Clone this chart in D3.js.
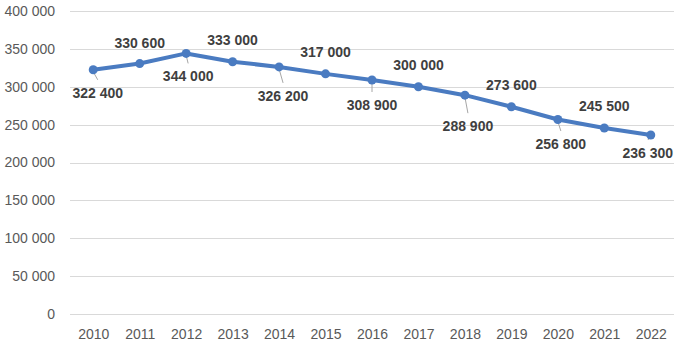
<!DOCTYPE html>
<html><head><meta charset="utf-8">
<script src="https://cdn.jsdelivr.net/npm/d3@7"></script>
<style>html,body{margin:0;padding:0;background:#fff;}</style>
</head><body>
<svg id="chart" width="678" height="351"></svg>
<script>
const years = ["2010","2011","2012","2013","2014","2015","2016","2017","2018","2019","2020","2021","2022"];
const values = [322400,330600,344000,333000,326200,317000,308900,300000,288900,273600,256800,245500,236300];
const yTicks = [0,50000,100000,150000,200000,250000,300000,350000,400000];
// label nudges (pixels, relative to point) — layout only
const labelDx = [4.5,0,2,0,4,0,0,0,3,0,3,0,-3];
const labelDy = [23,-20.5,23,-22,29,-22,25,-22,31,-22,24.5,-22,18];

const svg = d3.select("#chart");
const x = d3.scalePoint().domain(years).range([70, 674]).padding(0.5);
const y = d3.scaleLinear().domain([0, 400000]).range([314, 11]);
const fmt = v => d3.format(",")(v).replace(/,/g, " ");
const font = "'Liberation Sans', Arial, sans-serif";

const yAxis = d3.axisLeft(y).tickValues(yTicks).tickSize(-(674 - 70)).tickPadding(15).tickFormat(fmt);
const gy = svg.append("g").attr("transform", "translate(70,0)").call(yAxis);
gy.select(".domain").remove();
gy.selectAll(".tick line").attr("stroke", "#d9d9d9").attr("stroke-width", 1).attr("shape-rendering","crispEdges");
gy.selectAll(".tick text").attr("fill", "#595959").style("font-family", font).style("font-size", "14px");

const xAxis = d3.axisBottom(x).tickSize(0).tickPadding(15);
const gx = svg.append("g").attr("transform", "translate(0,314)").call(xAxis);
gx.select(".domain").remove();
gx.selectAll(".tick text").attr("fill", "#595959").style("font-family", font).style("font-size", "14px");

const data = years.map((yr, i) => ({yr, v: values[i], i}));

svg.append("g").selectAll("line").data(data.filter(d => labelDy[d.i] - 13 > 4))
  .join("line")
  .attr("x1", d => x(d.yr)).attr("y1", d => y(d.v) + 2)
  .attr("x2", d => x(d.yr) + labelDx[d.i]).attr("y2", d => y(d.v) + labelDy[d.i] - 13)
  .attr("stroke", "#a6a6a6").attr("stroke-width", 1);

svg.append("path").datum(data)
  .attr("d", d3.line().x(d => x(d.yr)).y(d => y(d.v)))
  .attr("fill", "none").attr("stroke", "#4a7bc1").attr("stroke-width", 4)
  .attr("stroke-linejoin", "round").attr("stroke-linecap", "round");

svg.append("g").selectAll("circle").data(data).join("circle")
  .attr("cx", d => x(d.yr)).attr("cy", d => y(d.v)).attr("r", 4.5)
  .attr("fill", "#4a7bc1");

svg.append("g").selectAll("text").data(data).join("text")
  .attr("x", d => x(d.yr) + labelDx[d.i])
  .attr("y", d => y(d.v) + labelDy[d.i])
  .attr("text-anchor", "middle").attr("dominant-baseline", "central")
  .attr("fill", "#3f3f3f").style("font-family", font).style("font-size", "14px").style("font-weight", "bold")
  .text(d => fmt(d.v));
</script>
</body></html>
